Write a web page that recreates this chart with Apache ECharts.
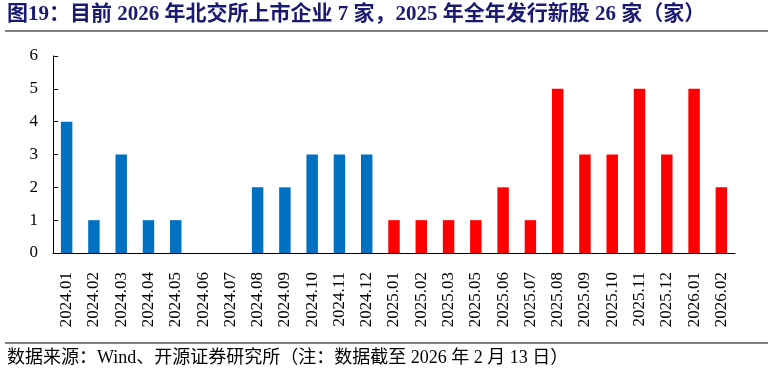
<!DOCTYPE html>
<html><head><meta charset="utf-8">
<script src="https://cdn.jsdelivr.net/npm/echarts@6/dist/echarts.min.js"></script>
<style>html,body{margin:0;padding:0;background:#fff}#c{width:774px;height:374px}</style>
</head><body><div id="c"></div>
<script>
const categories = ['2024.01','2024.02','2024.03','2024.04','2024.05','2024.06','2024.07','2024.08','2024.09','2024.10','2024.11','2024.12',
  '2025.01','2025.02','2025.03','2025.05','2025.06','2025.07','2025.08','2025.09','2025.10','2025.11','2025.12','2026.01','2026.02'];
const listings = [4,1,3,1,1,0,0,2,2,3,3,3, 1,1,1,1,2,1,5,3,3,5,3, 5,2];
const yTicks = [0,1,2,3,4,5,6];
const titleText = '图19：目前 2026 年北交所上市企业 7 家，2025 年全年发行新股 26 家（家）';
const sourceText = '数据来源：Wind、开源证券研究所（注：数据截至 2026 年 2 月 13 日）';

const serif = '"Liberation Serif","Times New Roman","Noto Sans CJK SC",serif';
const chart = echarts.init(document.getElementById('c'));
chart.setOption({
  animation:false,
  backgroundColor:'#fff',
  grid:{left:53,right:39,top:56,bottom:121,containLabel:false},
  xAxis:{type:'category',data:categories,
    axisLine:{lineStyle:{color:'#000',width:1}},
    axisTick:{inside:true,length:5,lineStyle:{color:'#000'}},
    axisLabel:{rotate:90,color:'#000',fontFamily:serif,fontSize:17,margin:19,interval:0}},
  yAxis:{type:'value',min:yTicks[0],max:yTicks[yTicks.length-1],interval:1,
    axisLine:{show:true,lineStyle:{color:'#000',width:1}},
    axisTick:{show:true,inside:true,length:5,lineStyle:{color:'#000'}},
    splitLine:{show:false},
    axisLabel:{color:'#000',fontFamily:serif,fontSize:17,margin:15}},
  series:[{type:'bar',barWidth:'42%',
    data:listings.map((v,i)=>({value:v,itemStyle:{color:categories[i].startsWith('2024')?'#0070C0':'#FF0000'}}))}],
  graphic:[
    {type:'text',left:7,top:4,style:{text:titleText,fill:'#1a1a70',font:'bold 21px "Liberation Serif","Noto Sans CJK SC",serif'}},
    {type:'line',shape:{x1:5,y1:31,x2:768,y2:31},style:{stroke:'#555',lineWidth:1.5}},
    {type:'line',shape:{x1:5,y1:343,x2:768,y2:343},style:{stroke:'#555',lineWidth:1.5}},
    {type:'text',left:7,top:349,style:{text:sourceText,fill:'#000',font:'18px "Liberation Serif","Noto Sans CJK SC",serif'}}
  ]
});
</script></body></html>
